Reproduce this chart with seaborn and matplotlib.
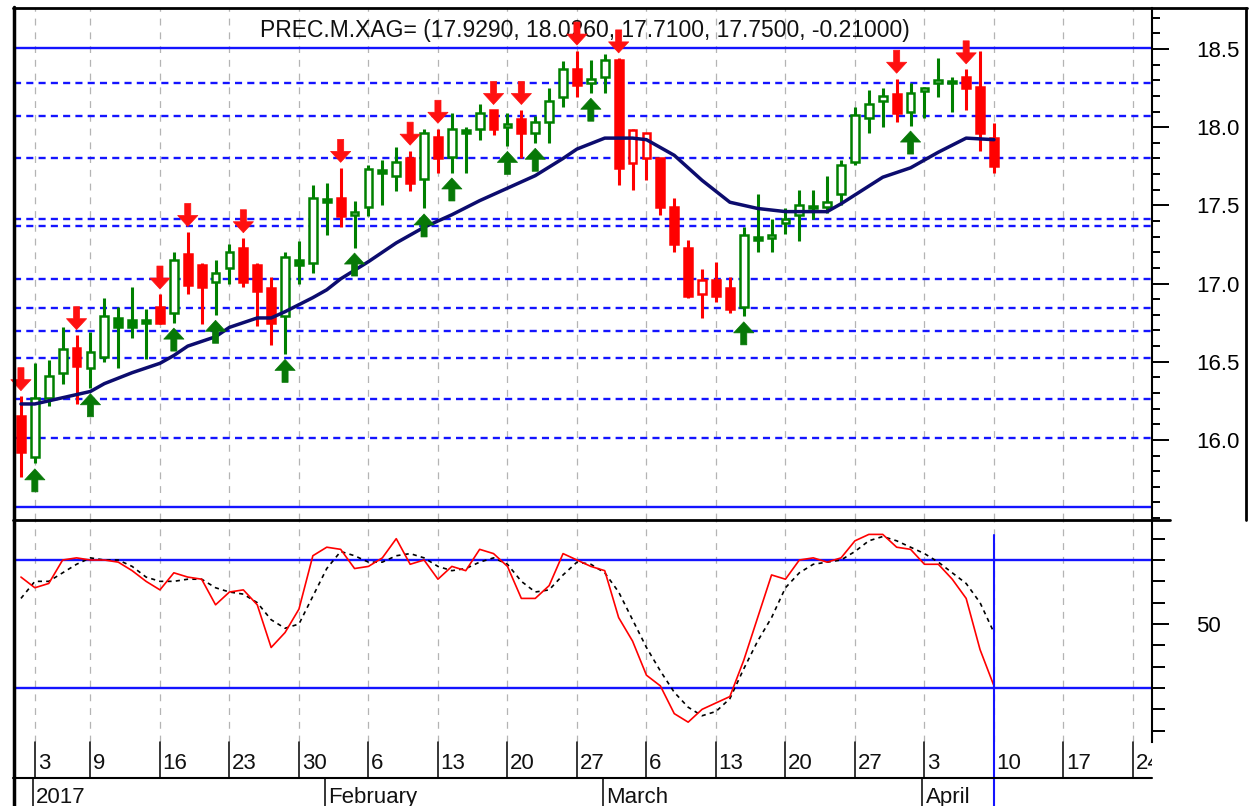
import numpy as np
import pandas as pd
import matplotlib
matplotlib.use("Agg")
import matplotlib.pyplot as plt
from matplotlib.lines import Line2D
from matplotlib.ticker import MultipleLocator, FixedLocator
from matplotlib.transforms import Bbox
import seaborn as sns

W, H = 1251, 806

# daily bars PREC.M.XAG=, business days 2 Jan - 10 Apr 2017
opens = [16.15, 15.89, 16.27, 16.43, 16.59, 16.46, 16.53, 16.72, 16.72, 16.75,
         16.85, 16.81, 17.19, 17.12, 17.01, 17.10, 17.23, 17.12, 16.97, 16.79,
         17.12, 17.13, 17.52, 17.55, 17.44, 17.49, 17.71, 17.69, 17.80, 17.67,
         17.94, 17.81, 17.965, 17.99, 18.11, 18.00, 18.05, 17.96, 18.03, 18.19,
         18.37, 18.28, 18.32, 18.43, 17.98, 17.96, 17.80, 17.49, 17.23, 17.02,
         17.02, 16.97, 16.85, 17.28, 17.29, 17.39, 17.44, 17.48, 17.49, 17.57,
         17.78, 18.06, 18.17, 18.21, 18.10, 18.23, 18.28, 18.28, 18.32, 18.26,
         17.929]
highs = [16.28, 16.49, 16.51, 16.72, 16.67, 16.69, 16.91, 16.85, 16.98, 16.84,
         16.93, 17.20, 17.33, 17.13, 17.15, 17.25, 17.29, 17.13, 17.04, 17.20,
         17.27, 17.63, 17.64, 17.74, 17.53, 17.76, 17.79, 17.87, 17.85, 17.99,
         17.99, 18.09, 18.00, 18.15, 18.11, 18.09, 18.11, 18.07, 18.25, 18.42,
         18.49, 18.43, 18.47, 18.44, 17.99, 17.96, 17.80, 17.55, 17.28, 17.09,
         17.14, 17.04, 17.36, 17.57, 17.41, 17.48, 17.60, 17.60, 17.69, 17.79,
         18.13, 18.24, 18.25, 18.31, 18.28, 18.26, 18.44, 18.32, 18.37, 18.49,
         18.026]
lows = [15.76, 15.85, 16.22, 16.36, 16.23, 16.33, 16.50, 16.46, 16.65, 16.52,
        16.74, 16.75, 16.93, 16.74, 16.80, 17.00, 16.98, 16.73, 16.61, 16.55,
        17.00, 17.07, 17.31, 17.36, 17.23, 17.43, 17.50, 17.59, 17.59, 17.48,
        17.71, 17.71, 17.71, 17.92, 17.95, 17.88, 17.80, 17.90, 17.90, 18.13,
        18.19, 18.22, 18.22, 17.63, 17.60, 17.66, 17.44, 17.20, 16.91, 16.78,
        16.88, 16.81, 16.79, 17.20, 17.20, 17.32, 17.27, 17.41, 17.45, 17.50,
        17.76, 17.96, 18.00, 18.03, 18.01, 18.06, 18.19, 18.10, 18.11, 17.85,
        17.71]
closes = [15.92, 16.27, 16.41, 16.58, 16.47, 16.56, 16.79, 16.78, 16.77, 16.76,
          16.75, 17.15, 16.99, 16.98, 17.07, 17.20, 17.01, 16.95, 16.75, 17.17,
          17.15, 17.55, 17.54, 17.43, 17.45, 17.73, 17.72, 17.78, 17.64, 17.96,
          17.80, 17.99, 17.985, 18.09, 17.99, 18.02, 17.96, 18.03, 18.17, 18.37,
          18.27, 18.31, 18.43, 17.74, 17.77, 17.80, 17.49, 17.25, 16.92, 16.93,
          16.92, 16.84, 17.31, 17.30, 17.31, 17.41, 17.50, 17.495, 17.52, 17.76,
          18.08, 18.15, 18.20, 18.09, 18.22, 18.25, 18.30, 18.29, 18.25, 17.96,
          17.75]
prev_close = 17.96

# signal arrows (bar positions)
buy_bars = [1, 5, 11, 14, 19, 24, 29, 31, 35, 37, 41, 52, 64]
sell_bars = [0, 4, 10, 12, 16, 23, 28, 30, 34, 36, 40, 43, 63, 68]

# moving average, sampled along the drawn line
ma_bars = [0, 1, 2, 4, 5, 6, 8, 10, 11, 12, 14, 15, 17, 18, 19, 21, 22, 23, 25, 27,
           29, 31, 33, 35, 37, 39, 40, 42, 44, 45, 47, 49, 51, 53, 55, 57, 58, 59,
           62, 64, 66, 68, 70]
ma_vals = [16.23, 16.23, 16.25, 16.29, 16.31, 16.36, 16.43, 16.49, 16.54, 16.60,
           16.66, 16.72, 16.78, 16.78, 16.82, 16.91, 16.96, 17.03, 17.14, 17.26,
           17.36, 17.44, 17.53, 17.61, 17.69, 17.80, 17.86, 17.93, 17.93, 17.92,
           17.82, 17.66, 17.52, 17.48, 17.46, 17.46, 17.46, 17.51, 17.68, 17.74,
           17.84, 17.93, 17.92]

# stochastic %K (red) and %D (black dashed)
stoch_k = [72, 67, 69, 80, 81, 80, 80, 79, 75, 70, 66, 74, 72, 71, 59, 65, 66, 59, 39, 46,
           57, 82, 86, 85, 76, 77, 81, 90, 78, 80, 71, 77, 75, 85, 83, 77, 62, 62, 68, 83,
           80, 77, 75, 53, 42, 26, 21, 8, 4, 10, 13, 16, 33, 53, 73, 71, 80, 81, 79, 81,
           89, 92, 92, 86, 85, 78, 78, 71, 62, 38, 21]
stoch_d = [62, 70, 70, 74, 78, 81, 80, 80, 77, 72, 70, 70, 71, 71, 67, 65, 64, 60, 52, 48,
           50, 63, 76, 84, 82, 79, 79, 82, 83, 81, 77, 75, 76, 79, 81, 78, 70, 65, 66, 73,
           79, 78, 74, 65, 52, 39, 28, 18, 11, 7, 9, 15, 29, 42, 53, 67, 74, 78, 79, 80,
           84, 89, 91, 89, 86, 83, 79, 74, 69, 60, 46]

solid_levels = [18.506, 15.572]
dashed_levels = [18.283, 18.072, 17.803, 17.413, 17.368, 17.030, 16.844, 16.697,
                 16.524, 16.262, 16.013]
stoch_levels = [80, 20]

week_pos = [1, 5, 10, 15, 20, 25, 30, 35, 40, 45, 50, 55, 60, 65, 70, 75, 80]
week_labels = ["3", "9", "16", "23", "30", "6", "13", "20", "27", "6", "13", "20",
               "27", "3", "10", "17", "24"]
month_pos = [1, 22, 42, 65]
month_labels = ["2017", "February", "March", "April"]

GREEN = "#008000"
RED = "#ff0000"
BLUE = "#1414ff"
NAVY = "#0c0c6e"


def fig_line(fig, x0, y0, x1, y1, **kw):
    # line in pixel coords, origin top-left
    fig.add_artist(Line2D([x0 / W, x1 / W], [1 - y0 / H, 1 - y1 / H],
                          transform=fig.transFigure, **kw))


def draw_candles(ax, df):
    x = np.arange(len(df))
    o, h, l, c = df["Open"].values, df["High"].values, df["Low"].values, df["Close"].values
    up = c >= o
    prev = np.r_[o[0], c[:-1]]
    hollow = c > prev
    edge = np.where(up, GREEN, RED)
    face = np.where(hollow, "white", edge)
    ax.vlines(x, l, h, colors=edge, lw=2.2, zorder=3)
    bottom = np.minimum(o, c)
    height = np.maximum(np.abs(c - o), 0.015)
    ax.bar(x, height, bottom=bottom, width=0.56, color=face, edgecolor=edge,
           linewidth=1.8, zorder=4)


def signal_arrow(ax, i, tip, tail, color):
    ax.annotate("", xy=(i, tip), xytext=(i, tail),
                arrowprops=dict(arrowstyle="simple,head_length=0.36,head_width=0.66,tail_width=0.2",
                                color=color, lw=0.5, shrinkA=0, shrinkB=0, mutation_scale=22),
                zorder=6)


def main():
    df = pd.DataFrame({"Open": opens, "High": highs, "Low": lows, "Close": closes},
                      index=pd.bdate_range("2017-01-02", "2017-04-10"))
    xs = np.arange(len(df))

    sns.set_style("white")
    plt.rcParams["font.family"] = ["Liberation Sans", "DejaVu Sans"]

    fig = plt.figure(figsize=(W / 100, H / 100), dpi=100)
    left, right = 14 / W, 1152 / W
    ax1 = fig.add_axes([left, 1 - 520 / H, right - left, 512 / H])
    ax2 = fig.add_axes([left, 1 - 742 / H, right - left, 222 / H], sharex=ax1)

    # ---- price panel ----
    for t in week_pos:
        ax1.axvline(t, color="#b4b4b4", lw=0.9, ls=(0, (5.5, 5.5)), zorder=0.5)
        ax2.axvline(t, color="#b4b4b4", lw=0.9, ls=(0, (5.5, 5.5)), zorder=0.5)
    for v in solid_levels:
        ax1.axhline(v, color=BLUE, lw=1.7, zorder=2)
    for v in dashed_levels:
        ax1.axhline(v, color=BLUE, lw=1.7, ls=(0, (3.0, 2.2)), zorder=2)

    draw_candles(ax1, df)
    sns.lineplot(x=ma_bars, y=ma_vals, ax=ax1, color=NAVY, lw=2.5, sort=False,
                 estimator=None, zorder=5)

    gap, alen = 0.035, 0.147
    for i in buy_bars:
        signal_arrow(ax1, i, lows[i] - gap, lows[i] - gap - alen, "#077807")
    for i in sell_bars:
        signal_arrow(ax1, i, highs[i] + gap, highs[i] + gap + alen, "#ff1010")

    title = "PREC.M.XAG= ({:.4f}, {:.4f}, {:.4f}, {:.4f}, {:.5f})".format(
        opens[-1], highs[-1], lows[-1], closes[-1], closes[-1] - prev_close)
    ax1.text(0.502, 0.957, title, transform=ax1.transAxes, ha="center", va="center",
             fontsize=16.5, color="#111111", zorder=5)

    ax1.set_ylim(15.488, 18.762)
    ax1.yaxis.tick_right()
    ax1.set_yticks(np.arange(16.0, 18.51, 0.5))
    ax1.set_yticklabels(["{:.1f}".format(v) for v in np.arange(16.0, 18.51, 0.5)])
    ax1.yaxis.set_minor_locator(MultipleLocator(0.1))

    # ---- stochastic panel ----
    for v in stoch_levels:
        ax2.axhline(v, color=BLUE, lw=1.7, zorder=2)
    sns.lineplot(x=xs, y=stoch_k, ax=ax2, color="red", lw=1.2, zorder=4)
    sns.lineplot(x=xs, y=stoch_d, ax=ax2, color="black", lw=1.2, ls=(0, (2.5, 2.5)), zorder=3)
    ax2.set_ylim(-5.3, 98.75)
    ax2.yaxis.tick_right()
    ax2.set_yticks([50])
    ax2.set_yticklabels(["50"])
    ax2.yaxis.set_minor_locator(FixedLocator([0, 10, 20, 30, 40, 60, 70, 80, 90]))

    for ax in (ax1, ax2):
        ax.set_xlim(-0.5, 81.37)
        ax.set_xlabel("")
        ax.set_ylabel("")
        ax.tick_params(axis="x", which="both", bottom=False, top=False, labelbottom=False)
        ax.tick_params(axis="y", which="major", right=True, left=False, length=12, width=1.4,
                       pad=20, labelsize=16, colors="black", direction="out")
        ax.tick_params(axis="y", which="minor", right=True, left=False, length=6, width=1.4,
                       colors="black", direction="out")
        for s in ("top", "bottom", "left"):
            ax.spines[s].set_visible(False)
        ax.spines["right"].set_color("black")
        ax.spines["right"].set_linewidth(1.5)
        ax.set_facecolor("white")
    ax2.tick_params(axis="y", which="minor", length=9)

    # ---- date axis ----
    trans = ax2.get_xaxis_transform()
    clip = Bbox.from_extents(0, 0, 1152, H)
    for t, lab in zip(week_pos, week_labels):
        fig.add_artist(Line2D([t, t], [0, -0.162], transform=trans, color="black", lw=1.1))
        txt = fig.text(t + 0.2, -0.095, lab, transform=trans, ha="left", va="center",
                       fontsize=16, color="#111111")
        txt.set_clip_box(clip)
    for t, lab in zip(month_pos, month_labels):
        fig.add_artist(Line2D([t - 0.15, t - 0.15], [-0.162, -0.3], transform=trans,
                              color="black", lw=1.1))
        fig.text(t + 0.1, -0.25, lab, transform=trans, ha="left", va="center",
                 fontsize=16, color="#111111")

    # cursor line on last bar
    fig.add_artist(Line2D([xs[-1], xs[-1]], [0.932, -0.3], transform=trans, color=BLUE, lw=1.5))

    # frame
    fig_line(fig, 13, 8, 1247, 8, color="black", lw=2)
    fig_line(fig, 13.5, 7, 13.5, 806, color="black", lw=2.5)
    fig_line(fig, 1246, 8, 1246, 520, color="black", lw=2)
    fig_line(fig, 13, 520, 1170, 520, color="black", lw=2)
    fig_line(fig, 13, 778, 1152, 778, color="black", lw=1.5)

    fig.savefig("out.png", dpi=100, facecolor="white")


if __name__ == "__main__":
    main()
